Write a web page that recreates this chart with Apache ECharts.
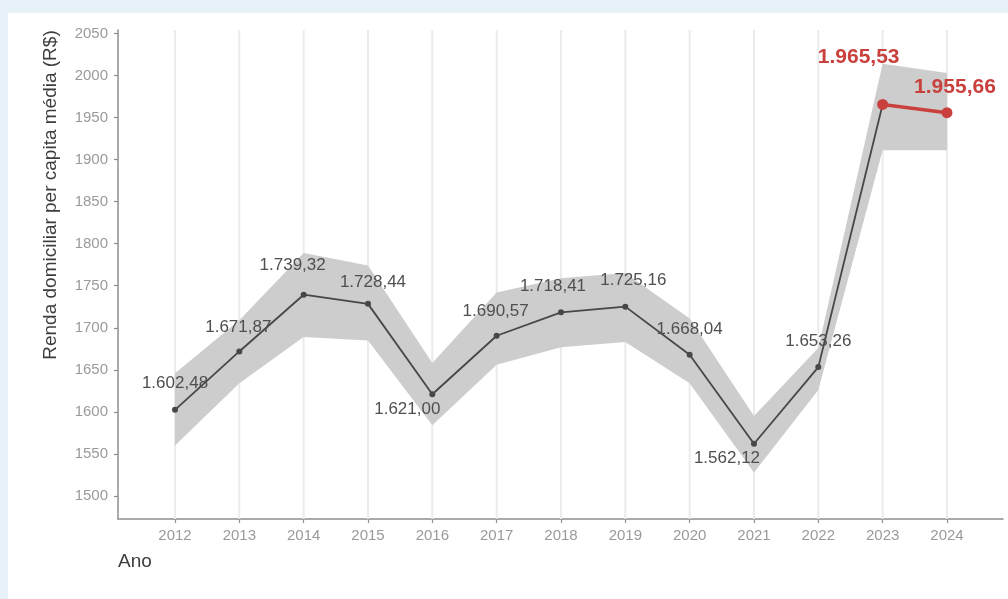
<!DOCTYPE html>
<html>
<head>
<meta charset="utf-8">
<script src="https://cdn.jsdelivr.net/npm/echarts@6/dist/echarts.min.js"></script>
<style>
  html, body { margin: 0; padding: 0; width: 1008px; height: 599px; background: #e7f1f8; overflow: hidden; }
  #chart { position: absolute; left: 8px; top: 13px; width: 1000px; height: 586px; background: #ffffff; }
</style>
</head>
<body>
<div id="chart"></div>
<script>
// ---- data ----
const years = [2012, 2013, 2014, 2015, 2016, 2017, 2018, 2019, 2020, 2021, 2022, 2023, 2024];
const renda = [1602.48, 1671.87, 1739.32, 1728.44, 1621.00, 1690.57, 1718.41, 1725.16, 1668.04, 1562.12, 1653.26, 1965.53, 1955.66];
const bandLower = [1560, 1634, 1689, 1685, 1584, 1656, 1677, 1683, 1634, 1528, 1626, 1911, 1911];
const bandUpper = [1646, 1709, 1789, 1774, 1658, 1742, 1759, 1765, 1711, 1595, 1676, 2014, 2003];
const yTicks = [1500, 1550, 1600, 1650, 1700, 1750, 1800, 1850, 1900, 1950, 2000, 2050];
const highlightYears = [2023, 2024];
const yTitle = 'Renda domiciliar per capita média (R$)';
const xTitle = 'Ano';

// ---- label placement (styling) ----
const labelOffsets = [[0,-27],[-1,-24],[-11,-29],[5,-22],[-25,15],[-1,-24],[-8,-26],[8,-26],[0,-25],[-27,15],[0,-26],[-24,-47],[8,-26]];

function fmtBR(v) {
  const parts = v.toFixed(2).split('.');
  const intPart = parts[0].replace(/\B(?=(\d{3})+(?!\d))/g, '.');
  return intPart + ',' + parts[1];
}

const FONT = 'Liberation Sans, Arial, sans-serif';
const firstHi = years.indexOf(highlightYears[0]);
const Y_MIN = 1472.7, Y_MAX = 2054;

const darkData = [];
for (let i = 0; i <= firstHi; i++) {
  const item = { value: [years[i], renda[i]] };
  if (i < firstHi) {
    item.label = { show: true, position: 'inside', offset: labelOffsets[i] };
  }
  darkData.push(item);
}
const redData = [];
for (let i = firstHi; i < years.length; i++) {
  redData.push({ value: [years[i], renda[i]], label: { show: true, position: 'inside', offset: labelOffsets[i] } });
}

const chart = echarts.init(document.getElementById('chart'), null, { renderer: 'canvas' });
chart.setOption({
  animation: false,
  backgroundColor: '#ffffff',
  textStyle: { fontFamily: FONT },
  grid: { left: 110, top: 17, width: 885, height: 489, containLabel: false },
  xAxis: {
    type: 'value',
    min: 2011.114,
    max: 2024.871,
    axisLine: { show: true, onZero: false, lineStyle: { color: '#8f8f8f', width: 1.5 } },
    axisTick: { show: true, customValues: years, length: 4, lineStyle: { color: '#8f8f8f', width: 1.2 } },
    axisLabel: { customValues: years, formatter: v => String(v), color: '#9a9a9a', fontSize: 15, margin: 9, fontFamily: FONT },
    splitLine: { show: false }
  },
  yAxis: {
    type: 'value',
    min: Y_MIN,
    max: Y_MAX,
    axisLine: { show: true, onZero: false, lineStyle: { color: '#8f8f8f', width: 1.5 } },
    axisTick: { show: true, customValues: yTicks, length: 4, lineStyle: { color: '#8f8f8f', width: 1.2 } },
    axisLabel: { customValues: yTicks, formatter: v => String(v), color: '#9a9a9a', fontSize: 15, margin: 10, fontFamily: FONT },
    splitLine: { show: false }
  },
  graphic: [
    { type: 'text', x: 43, y: 182, rotation: Math.PI / 2,
      style: { text: yTitle, fill: '#3d3d3d', font: '19px ' + FONT, align: 'center', verticalAlign: 'middle' } },
    { type: 'text', x: 110, y: 549,
      style: { text: xTitle, fill: '#3d3d3d', font: '19px ' + FONT, align: 'left', verticalAlign: 'middle' } }
  ],
  series: [
    {
      type: 'custom', name: 'grid', z: 1, silent: true,
      data: years.map(y => [y, Y_MIN]),
      encode: { x: 0, y: 1 },
      renderItem: function (params, api) {
        const x = api.value(0);
        const p0 = api.coord([x, Y_MIN]);
        const p1 = api.coord([x, Y_MAX]);
        return { type: 'line', shape: { x1: p0[0], y1: p0[1], x2: p1[0], y2: p1[1] },
                 style: { stroke: '#ebebeb', lineWidth: 2 } };
      }
    },
    {
      type: 'custom', name: 'band', z: 2, silent: true,
      data: years.map((y, i) => [y, bandLower[i], bandUpper[i]]),
      encode: { x: 0, y: [1, 2] },
      renderItem: function (params, api) {
        if (params.dataIndex !== 0) return null;
        const pts = [];
        for (let i = 0; i < years.length; i++) pts.push(api.coord([years[i], bandUpper[i]]));
        for (let i = years.length - 1; i >= 0; i--) pts.push(api.coord([years[i], bandLower[i]]));
        return { type: 'polygon', shape: { points: pts }, style: { fill: '#cdcdcd' } };
      }
    },
    {
      type: 'line', name: 'renda', z: 3,
      data: darkData,
      symbol: 'circle', symbolSize: 6,
      lineStyle: { color: '#474747', width: 1.8 },
      itemStyle: { color: '#474747' },
      label: { color: '#4f4f4f', fontSize: 17, fontFamily: FONT, formatter: p => fmtBR(p.value[1]) }
    },
    {
      type: 'line', name: 'destaque', z: 4,
      data: redData,
      symbol: 'circle', symbolSize: 11,
      lineStyle: { color: '#c9403d', width: 3.5 },
      itemStyle: { color: '#c9403d' },
      label: { color: '#c9403d', fontSize: 21, fontWeight: 'bold', fontFamily: FONT, formatter: p => fmtBR(p.value[1]) }
    }
  ]
});
</script>
</body>
</html>
